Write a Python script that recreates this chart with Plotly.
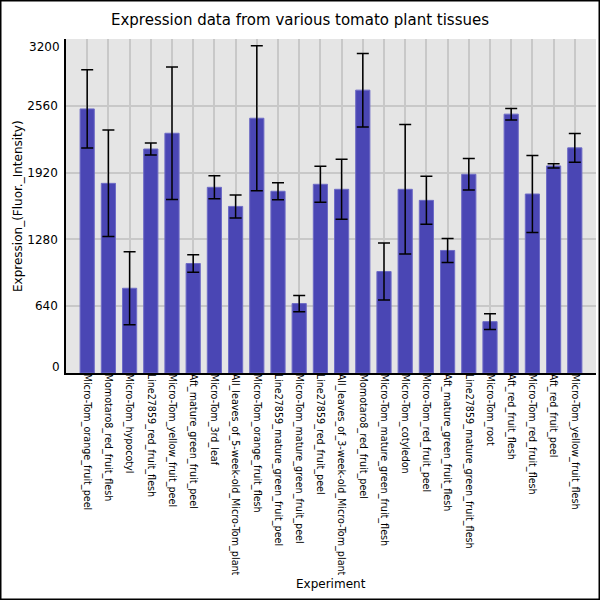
import plotly.graph_objs as go

experiments = [
    "Micro-Tom_orange_fruit_peel",
    "Momotaro8_red_fruit_flesh",
    "Micro-Tom_hypocotyl",
    "Line27859_red_fruit_flesh",
    "Micro-Tom_yellow_fruit_peel",
    "Aft_mature_green_fruit_peel",
    "Micro-Tom_3rd_leaf",
    "All_leaves_of_5-week-old_Micro-Tom_plant",
    "Micro-Tom_orange_fruit_flesh",
    "Line27859_mature_green_fruit_peel",
    "Micro-Tom_mature_green_fruit_peel",
    "Line27859_red_fruit_peel",
    "All_leaves_of_3-week-old_Micro-Tom_plant",
    "Momotaro8_red_fruit_peel",
    "Micro-Tom_mature_green_fruit_flesh",
    "Micro-Tom_cotyledon",
    "Micro-Tom_red_fruit_peel",
    "Aft_mature_green_fruit_flesh",
    "Line27859_mature_green_fruit_flesh",
    "Micro-Tom_root",
    "Aft_red_fruit_flesh",
    "Micro-Tom_red_fruit_flesh",
    "Aft_red_fruit_peel",
    "Micro-Tom_yellow_fruit_flesh",
]
expression = [2530, 1817, 812, 2146, 2297, 1049, 1779, 1596, 2441, 1741, 665, 1808,
              1760, 2710, 972, 1760, 1654, 1174, 1904, 492, 2480, 1715, 1984, 2157]
std_dev = [375, 510, 350, 58, 635, 83, 110, 110, 695, 82, 78, 172,
           288, 352, 273, 620, 230, 115, 150, 75, 55, 368, 21, 138]

y_ticks = [0, 640, 1280, 1920, 2560, 3200]

font = "DejaVu Sans"
W, H = 600, 600
ml, mr, mt, mb = 66, 4, 39, 227

bars = go.Bar(
    x=list(range(len(experiments))),
    y=expression,
    width=0.67,
    marker=dict(color="#4a46b4", line=dict(color="#6e6cc6", width=1)),
    error_y=dict(type="data", array=std_dev, visible=True,
                 color="black", thickness=1.5, width=6),
    hovertemplate="%{text}<br>%{y}<extra></extra>",
    text=experiments,
    textposition="none",
)

layout = go.Layout(
    width=W, height=H,
    margin=dict(l=ml, r=mr, t=mt, b=mb, autoexpand=False),
    paper_bgcolor="white",
    plot_bgcolor="#e5e5e5",
    font=dict(family=font, color="#111"),
    showlegend=False,
    title=dict(text="Expression data from various tomato plant tissues",
               x=0.5, xanchor="center", y=1 - 20 / H, yanchor="middle",
               font=dict(size=15, color="black")),
    xaxis=dict(
        range=[-1, len(experiments)],
        tickvals=list(range(len(experiments))),
        ticktext=experiments,
        tickangle=90,
        tickfont=dict(size=9.6, color="black"),
        showgrid=True, gridcolor="#c8c8c8", gridwidth=1.5,
        showline=True, linecolor="black", linewidth=1.5,
        ticks="", zeroline=False, automargin=False,
        ticklabelstandoff=-3,
    ),
    yaxis=dict(
        range=[0, 3200],
        tickvals=y_ticks[1:-1],
        tickfont=dict(size=12, color="black"),
        showgrid=True, gridcolor="#c8c8c8", gridwidth=1.5,
        showline=True, linecolor="black", linewidth=1.5,
        ticks="", zeroline=False, automargin=False,
        ticklabelstandoff=4,
    ),
)

fig = go.Figure([bars], layout)

pw = W - ml - mr
ph = H - mt - mb

# axis titles placed where the original has them
fig.add_annotation(x=(331 - ml) / pw, xref="paper", y=-(584 - mt - ph) / ph, yref="paper",
                   text="Experiment", showarrow=False, xanchor="center", yanchor="middle",
                   font=dict(size=12, color="black"))
fig.add_annotation(x=-(ml - 18) / pw, xref="paper", y=(mt + ph - 206) / ph, yref="paper",
                   text="Expression_(Fluor._Intensity)", showarrow=False, textangle=-90,
                   xanchor="center", yanchor="middle", font=dict(size=12, color="black"))

# end labels of the y axis sit inside the plot edge, as in the original
for v, shift in [(y_ticks[0], 6), (y_ticks[-1], -8)]:
    fig.add_annotation(x=-4 / pw, xref="paper", y=v, yref="y", text=str(v),
                       showarrow=False, xanchor="right", yanchor="middle", yshift=shift,
                       font=dict(size=12, color="black"))

# thin frame round the whole picture
fig.add_shape(type="rect", xref="paper", yref="paper",
              x0=-(ml - 0.75) / pw, x1=1 + (mr - 0.75) / pw,
              y0=-(mb - 0.75) / ph, y1=1 + (mt - 0.75) / ph,
              line=dict(color="black", width=1.5), layer="above")

# drop the page's default body margin so the figure fills the window
fig.write_html("out.html", config={"displayModeBar": False},
               post_script="document.body.style.margin='0px';")
